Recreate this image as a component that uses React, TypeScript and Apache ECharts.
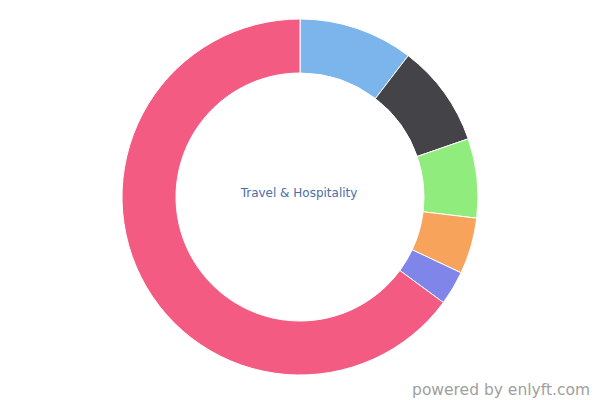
import React, { useEffect, useRef } from "react";
import * as echarts from "echarts";

const categories = ["Blue", "Dark", "Green", "Orange", "Purple", "Pink"];
const values = [10.4, 9.3, 7.2, 5.1, 3.1, 64.9];
const colors = ["#7cb5ec", "#434348", "#90ed7d", "#f7a35c", "#8085e9", "#f45b83"];
const centerTitle = "Travel & Hospitality";
const credit = "powered by enlyft.com";

export default function App() {
  const ref = useRef<HTMLDivElement>(null);
  useEffect(() => {
    if (!ref.current) return;
    const chart = echarts.init(ref.current, undefined, { renderer: "svg" });
    chart.setOption({
      animation: false,
      graphic: [
        {
          type: "text",
          x: 299,
          y: 193,
          style: {
            text: centerTitle,
            align: "center",
            verticalAlign: "middle",
            fontFamily: "DejaVu Sans",
            fontSize: 12,
            fill: "#4a6fa5",
          },
        },
        {
          type: "text",
          x: 590,
          y: 390,
          style: {
            text: credit,
            align: "right",
            verticalAlign: "middle",
            fontFamily: "DejaVu Sans",
            fontSize: 15.5,
            fill: "#a0a0a0",
          },
        },
      ],
      series: [
        {
          type: "pie",
          center: [300, 197],
          radius: [124, 178],
          startAngle: 90,
          clockwise: true,
          label: { show: false },
          labelLine: { show: false },
          itemStyle: { borderColor: "#ffffff", borderWidth: 1 },
          emphasis: { disabled: true },
          data: categories.map((c, i) => ({ name: c, value: values[i], itemStyle: { color: colors[i] } })),
        },
      ],
    });
    return () => chart.dispose();
  }, []);
  return <div ref={ref} style={{ width: 600, height: 400, position: "absolute", left: 0, top: 0 }} />;
}
